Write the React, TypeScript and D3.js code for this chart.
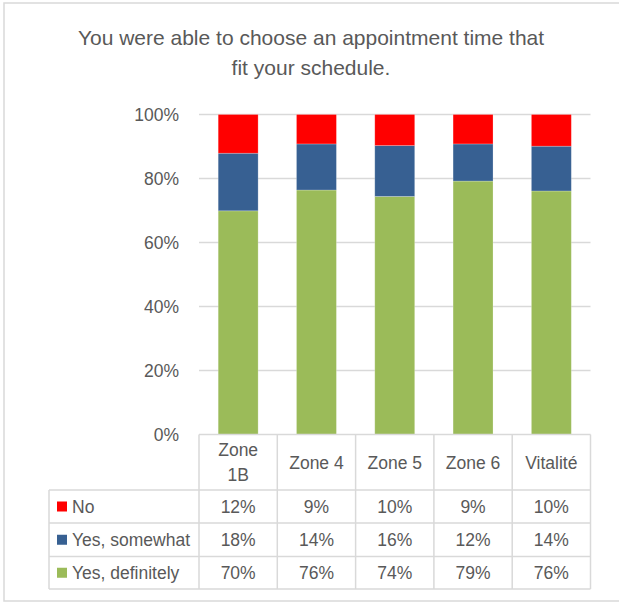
import { useEffect, useRef } from 'react';
import * as d3 from 'd3';

const categoryLabels = [['Zone', '1B'], ['Zone 4'], ['Zone 5'], ['Zone 6'], ['Vitalité']];
const categories = categoryLabels.map(l => l.join(' '));

// stacked bottom -> top
const seriesNames = ['Yes, definitely', 'Yes, somewhat', 'No'];
const definitely = [0.699, 0.764, 0.744, 0.792, 0.761];
const somewhat = [0.18, 0.144, 0.159, 0.116, 0.14];
const no = [0.121, 0.092, 0.097, 0.092, 0.099];
const seriesColors = ['#9BBB59', '#376092', '#FF0000'];

const yTicks = [0, 0.2, 0.4, 0.6, 0.8, 1];
const titleLines = ['You were able to choose an appointment time that', 'fit your schedule.'];

export default function App() {
  const svgRef = useRef<SVGSVGElement>(null);

  useEffect(() => {
    if (!svgRef.current) return;
    const svg = d3.select(svgRef.current);
    svg.selectAll('*').remove();

    const textColor = '#595959';
    const lineColor = '#D9D9D9';
    const font = '"Liberation Sans", Arial, sans-serif';

    const plot = { left: 199, right: 590.5, top: 114.5, bottom: 434.5 };
    const tableLeft = 49;
    const headerBottom = 490;
    const rowBounds = [490, 523, 556.5, 589];

    const values = [definitely, somewhat, no];
    const rows = categories.map((c, i) => {
      const r: any = { category: c };
      seriesNames.forEach((s, k) => (r[s] = values[k][i]));
      return r;
    });
    const stacked = d3.stack<any>().keys(seriesNames)(rows);

    const x = d3.scaleBand<string>().domain(categories).range([plot.left, plot.right]).padding(0);
    const y = d3.scaleLinear().domain([0, 1]).range([plot.bottom, plot.top]);
    const barW = x.bandwidth() * 0.51;

    // outer frame
    svg.append('rect')
      .attr('x', 4).attr('y', 3).attr('width', 640).attr('height', 598)
      .attr('fill', '#fff').attr('stroke', lineColor).attr('stroke-width', 1.5);

    // title
    svg.append('g').selectAll('text')
      .data(titleLines)
      .enter()
      .append('text')
      .attr('x', 311)
      .attr('y', (d, i) => 45 + i * 29.5)
      .attr('text-anchor', 'middle')
      .attr('fill', textColor)
      .style('font-family', font)
      .style('font-size', '21px')
      .text(d => d);

    // gridlines
    svg.append('g').selectAll('line')
      .data(yTicks.filter(t => t > 0))
      .enter()
      .append('line')
      .attr('x1', plot.left).attr('x2', plot.right)
      .attr('y1', d => y(d)).attr('y2', d => y(d))
      .attr('stroke', lineColor).attr('stroke-width', 1.5);

    // y tick labels
    svg.append('g').selectAll('text')
      .data(yTicks)
      .enter()
      .append('text')
      .attr('x', 179)
      .attr('y', d => y(d))
      .attr('dy', '0.36em')
      .attr('text-anchor', 'end')
      .attr('fill', textColor)
      .style('font-family', font)
      .style('font-size', '17.5px')
      .text(d => d3.format('.0%')(d));

    // bars
    svg.append('g').selectAll('g')
      .data(stacked)
      .enter()
      .append('g')
      .attr('fill', (d, i) => seriesColors[i])
      .selectAll('rect')
      .data(d => d)
      .enter()
      .append('rect')
      .attr('x', d => (x(d.data.category) || 0) + (x.bandwidth() - barW) / 2)
      .attr('y', d => y(d[1]))
      .attr('width', barW)
      .attr('height', d => y(d[0]) - y(d[1]))
      .attr('stroke', 'rgba(255,255,255,0.3)')
      .attr('stroke-width', 0.75);

    // data table
    const table = svg.append('g')
      .attr('stroke', lineColor).attr('stroke-width', 1.5).attr('fill', 'none');
    table.append('line')
      .attr('x1', plot.left).attr('x2', plot.right)
      .attr('y1', plot.bottom).attr('y2', plot.bottom);
    rowBounds.forEach(b => {
      table.append('line')
        .attr('x1', tableLeft).attr('x2', plot.right)
        .attr('y1', b).attr('y2', b);
    });
    table.append('line')
      .attr('x1', tableLeft).attr('x2', tableLeft)
      .attr('y1', headerBottom).attr('y2', rowBounds[rowBounds.length - 1]);
    [...categories.map(c => x(c) || 0), plot.right].forEach(cx => {
      table.append('line')
        .attr('x1', cx).attr('x2', cx)
        .attr('y1', plot.bottom).attr('y2', rowBounds[rowBounds.length - 1]);
    });

    // header labels
    const headerMid = (plot.bottom + headerBottom) / 2;
    categoryLabels.forEach((lines, i) => {
      const cx = (x(categories[i]) || 0) + x.bandwidth() / 2;
      const lh = 24.5;
      lines.forEach((line, j) => {
        svg.append('text')
          .attr('x', cx)
          .attr('y', headerMid + (j - (lines.length - 1) / 2) * lh)
          .attr('dy', '0.36em')
          .attr('text-anchor', 'middle')
          .attr('fill', textColor)
          .style('font-family', font)
          .style('font-size', '17.5px')
          .text(line);
      });
    });

    // table rows: top row is the top series
    const rowOrder = [2, 1, 0];
    rowOrder.forEach((k, r) => {
      const mid = (rowBounds[r] + rowBounds[r + 1]) / 2;
      svg.append('rect')
        .attr('x', 57).attr('y', mid - 5)
        .attr('width', 10).attr('height', 10)
        .attr('fill', seriesColors[k]);
      svg.append('text')
        .attr('x', 72).attr('y', mid)
        .attr('dy', '0.36em')
        .attr('fill', textColor)
        .style('font-family', font)
        .style('font-size', '17.5px')
        .text(seriesNames[k]);
      values[k].forEach((v, i) => {
        svg.append('text')
          .attr('x', (x(categories[i]) || 0) + x.bandwidth() / 2)
          .attr('y', mid)
          .attr('dy', '0.36em')
          .attr('text-anchor', 'middle')
          .attr('fill', textColor)
          .style('font-family', font)
          .style('font-size', '17.5px')
          .text(d3.format('.0%')(v));
      });
    });
  }, []);

  return (
    <svg
      ref={svgRef}
      width={619}
      height={603}
      style={{ position: 'absolute', left: 0, top: 0, background: '#fff' }}
    />
  );
}
